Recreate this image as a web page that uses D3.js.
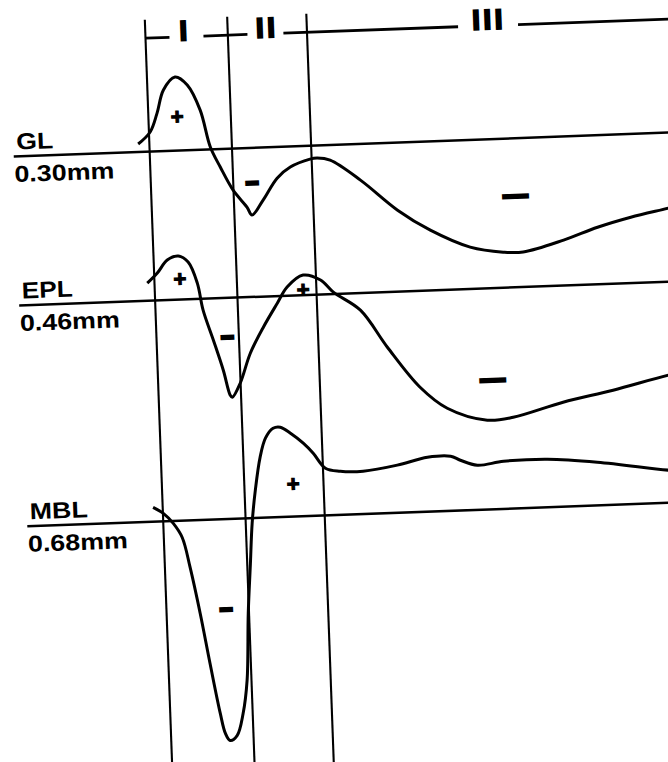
<!DOCTYPE html>
<html>
<head>
<meta charset="utf-8">
<script src="https://cdn.jsdelivr.net/npm/d3@7"></script>
<style>
  body { margin: 0; background: #fff; }
  svg { display: block; }
  text { font-family: "Liberation Sans", Arial, sans-serif; font-weight: bold; fill: #000; }
</style>
</head>
<body>
<svg id="fig" width="668" height="762"></svg>
<script>
// layers and depths
var layers = ["GL", "EPL", "MBL"];
var depths = ["0.30mm", "0.46mm", "0.68mm"];

// phases (time units) and where the numerals sit
var phases = ["I", "II", "III"];
var phaseBounds = [0, 10.3, 20.2];
var phaseLabelAt = [4.75, 15.25, 43];
// gaps in the top bracket around the numerals
var bracketSegs = [[0, 3.0], [7.25, 12.75], [17.25, 39.1], [46.6, 70]];

// traces: [time, amplitude]
var glTrace = [[-1.4, 4], [0.15, 9.8], [1.1, 19.1], [2.0, 30.5], [3.5, 36.8], [5.0, 32.6],
  [6.5, 19.8], [7.6, 1.2], [8.75, -9], [10.25, -20.8], [11.9, -29.5], [12.5, -33.6],
  [13.95, -26.3], [15.8, -15.6], [17.5, -10.3], [20.0, -6.7], [20.9, -6.3], [22.5, -7.6],
  [26.2, -18.1], [30.7, -33.8], [34.7, -44.4], [39.6, -53.6], [43.7, -56.7], [46.2, -57],
  [51.3, -51.8], [55.6, -46], [59.8, -41.6], [64.6, -37.7], [66.5, -36]];

var eplTrace = [[-0.9, 8.8], [0.4, 13.7], [1.7, 20], [3.1, 21.8], [4.3, 18.6], [5.35, 7.9],
  [5.95, -5.7], [7.1, -20.9], [8.2, -36.1], [8.95, -48.7], [9.2, -49.8], [10.25, -42.9],
  [11.65, -28.1], [13.4, -15.3], [15.25, -3.6], [16.55, 4.3], [18.6, 10], [20.75, 7.2],
  [22.3, 0.9], [25.6, -8.6], [28.8, -27.6], [32.7, -48.2], [36, -59.2], [40.95, -65.9],
  [44.2, -64.9], [50.5, -58.3], [56.8, -53.2], [63.8, -46.7], [66.5, -45]];

var mblTrace = [[-1.2, 7.2], [0.05, 4], [1.25, -1.2], [2.3, -8.4], [3.15, -23.5], [4.2, -46.7],
  [5.2, -71.9], [6.25, -97], [6.8, -107.1], [7.35, -110.7], [8.25, -108.4], [9.1, -97.5],
  [9.75, -81], [10.2, -47.6], [10.7, -22.6], [11.1, -2.6], [11.65, 13.9], [12.4, 30.3],
  [13.15, 39.7], [14.15, 44.5], [15.05, 44.9], [16.3, 41.7], [17.85, 36.5], [19.05, 31.3],
  [20.5, 23.6], [22.35, 21.8], [25.2, 21.4], [29.5, 23.8], [33.3, 27.2], [36.2, 27.3],
  [37.4, 25.1], [39.5, 22.3], [42.8, 23.8], [48.3, 24], [54.5, 21.6], [63.4, 16.3], [66.5, 15]];

// polarity signs: [time, amplitude, sign]
var glSigns = [[3.6, 16.8, "+"], [12.65, -17.1, "-"], [45.5, -28.4, "—"]];
var eplSigns = [[3.2, 10.2, "+"], [8.85, -19.2, "-"], [18.55, 2.5, "+"], [41.8, -45.5, "—"]];
var mblSigns = [[16.4, 16.2, "+"], [7.45, -44.7, "-"]];

var traces = [glTrace, eplTrace, mblTrace];
var signs = [glSigns, eplSigns, mblSigns];

// layout
var rowY = [157, 306, 527];
var nameLen = [37, 51, 58];
var bracketY = 43.5;

var svg = d3.select("#fig");
// the whole figure is scanned slightly tilted
var g = svg.append("g").attr("transform", "rotate(-2.1)");

var x = d3.scaleLinear().domain([0, 65]).range([144, 664]);
var amp = d3.scaleLinear().domain([0, 50]).range([0, -100]);

var line = d3.line()
  .x(function(d) { return x(d[0]); })
  .y(function(d) { return amp(d[1]); })
  .curve(d3.curveCatmullRom.alpha(0.5));

// phase boundaries
g.selectAll(".vline").data(phaseBounds).enter().append("line")
  .attr("x1", function(d) { return x(d); }).attr("x2", function(d) { return x(d); })
  .attr("y1", 25).attr("y2", 800)
  .attr("stroke", "#000").attr("stroke-width", 2.1);

// top bracket
g.selectAll(".bseg").data(bracketSegs).enter().append("line")
  .attr("x1", function(d) { return x(d[0]); }).attr("x2", function(d) { return x(d[1]); })
  .attr("y1", bracketY).attr("y2", bracketY)
  .attr("stroke", "#000").attr("stroke-width", 2.8);

g.selectAll(".phase").data(phases).enter().append("text")
  .attr("x", function(d, i) { return x(phaseLabelAt[i]); })
  .attr("y", bracketY + 3.5)
  .attr("text-anchor", "middle")
  .attr("font-size", 28)
  .attr("letter-spacing", function(d) { return d.length > 1 ? 3.5 : 0; })
  .attr("stroke", "#000").attr("stroke-width", 2)
  .text(function(d) { return d; });

// rows
layers.forEach(function(name, i) {
  var row = g.append("g").attr("transform", "translate(0," + rowY[i] + ")");

  row.append("line")
    .attr("x1", 8).attr("x2", 720).attr("y1", 0).attr("y2", 0)
    .attr("stroke", "#000").attr("stroke-width", 2.5);

  row.append("text")
    .attr("x", 11).attr("y", -7)
    .attr("font-size", 23)
    .attr("textLength", nameLen[i]).attr("lengthAdjust", "spacingAndGlyphs")
    .text(name);

  row.append("text")
    .attr("x", 8).attr("y", 25.5)
    .attr("font-size", 23)
    .attr("textLength", 100).attr("lengthAdjust", "spacingAndGlyphs")
    .text(depths[i]);

  row.append("path")
    .datum(traces[i])
    .attr("d", line)
    .attr("fill", "none")
    .attr("stroke", "#000")
    .attr("stroke-width", 3)
    .attr("stroke-linejoin", "round");

  row.selectAll(".sign").data(signs[i]).enter().append("text")
    .attr("x", function(d) { return x(d[0]); })
    .attr("y", function(d) { return amp(d[1]); })
    .attr("dy", "0.32em")
    .attr("text-anchor", "middle")
    .attr("font-size", function(d) { return d[2] === "—" ? 24 : 22; })
    .attr("stroke", "#000")
    .attr("stroke-width", function(d) { return d[2] === "+" ? 1.2 : 3; })
    .text(function(d) { return d[2] === "-" ? "–" : d[2]; });
});
</script>
</body>
</html>
